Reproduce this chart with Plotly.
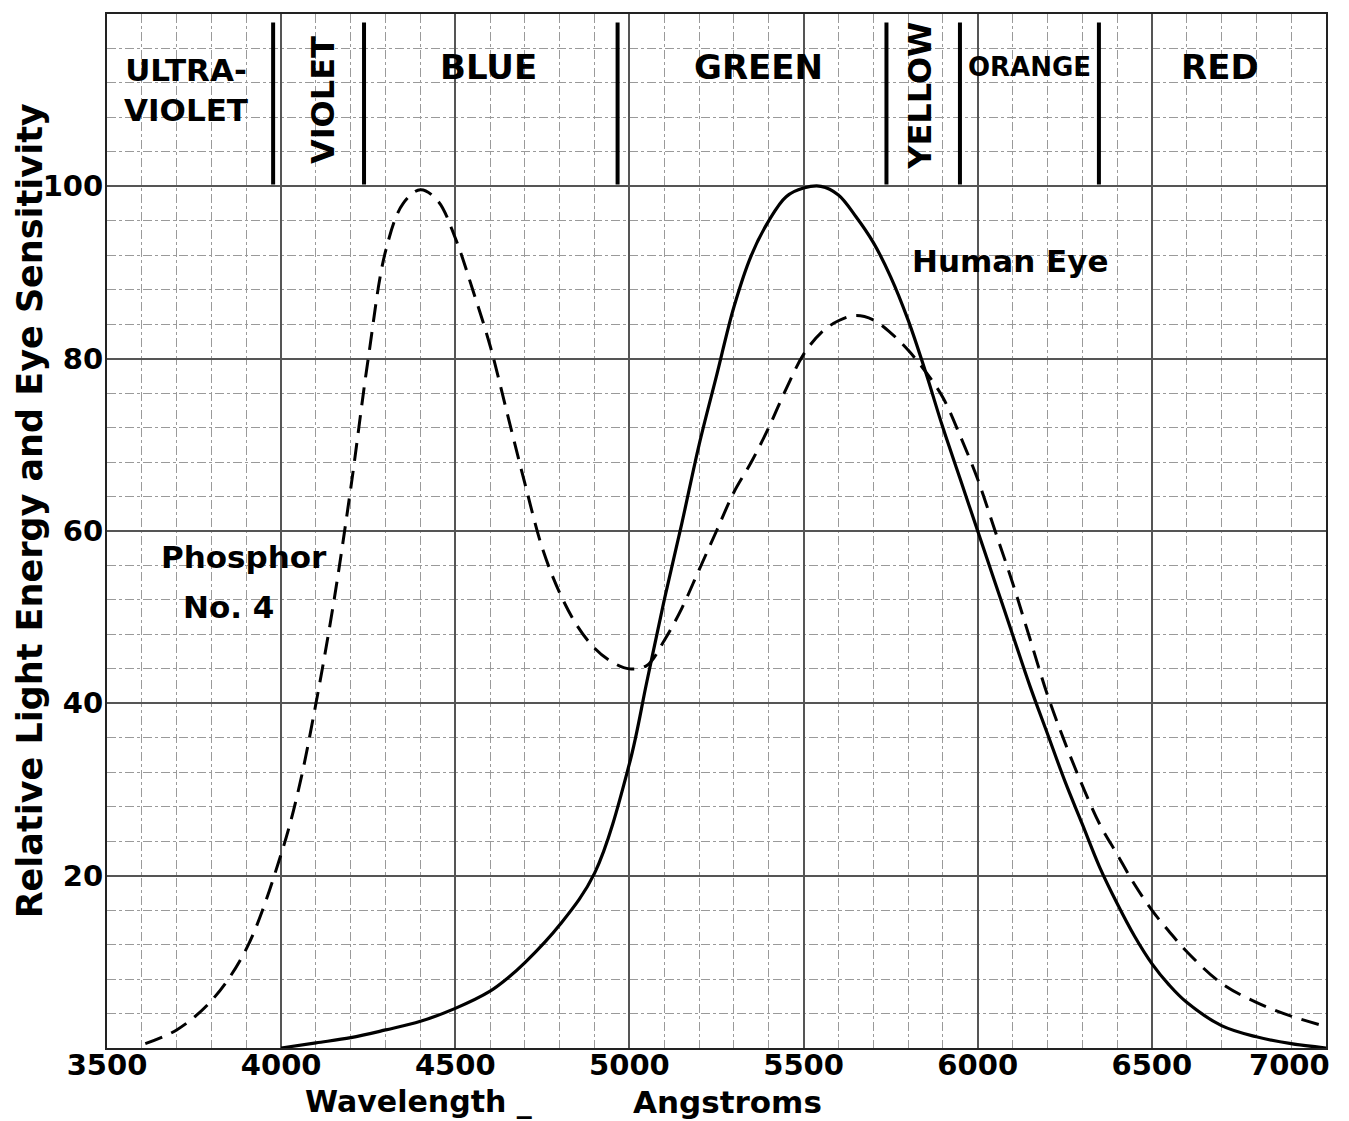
import plotly.graph_objects as go

# Wavelength in Angstroms
eye_wl = [4000, 4100, 4200, 4300, 4400, 4500, 4600, 4650, 4700, 4800, 4900, 5000, 5050, 5100, 5150,
          5200, 5250, 5300, 5350, 5400, 5450, 5500, 5550, 5600, 5650, 5700, 5750, 5800, 5850,
          5900, 5950, 6000, 6050, 6100, 6150, 6200, 6250, 6300, 6350, 6400, 6450, 6500, 6550,
          6600, 6700, 6800, 6900, 7000]
eye_val = [0, 0.6, 1.2, 2.1, 3.1, 4.6, 6.6, 8.1, 9.9, 14.3, 20.3, 33, 42.5, 52, 60.8,
           70, 78, 86, 92, 96, 98.8, 99.8, 100, 99, 96.5, 93.5, 89.5, 84.5, 78.5,
           72, 66, 60, 54, 48, 42, 36.5, 31, 26, 21, 16.8, 13, 9.8, 7.3,
           5.3, 2.6, 1.3, 0.5, 0]

phos_wl = [3610, 3700, 3800, 3900, 4000, 4050, 4100, 4150, 4200, 4250, 4300, 4350, 4400, 4450,
           4500, 4550, 4600, 4650, 4700, 4750, 4800, 4850, 4900, 4950, 5000, 5050, 5100, 5150,
           5200, 5250, 5300, 5350, 5400, 5450, 5500, 5550, 5600, 5650, 5700, 5750, 5800, 5850,
           5900, 5950, 6000, 6050, 6100, 6150, 6200, 6250, 6300, 6350, 6400, 6450, 6500, 6550,
           6600, 6700, 6800, 6900, 7000]
phos_val = [0.5, 2.1, 5.5, 11.5, 22.5, 30, 40, 51.5, 65, 80, 92.5, 98, 99.6, 98.3,
            94, 88, 81.5, 73.5, 65.5, 58, 52.8, 49, 46.4, 44.8, 44, 44.4, 47.3, 51,
            55.5, 60, 64.5, 68, 72, 76.5, 80.5, 83, 84.4, 85, 84.5, 83, 81, 78.5,
            75.5, 71, 66, 60, 54, 47.5, 41, 35.5, 30.5, 26, 22.5, 19, 16, 13.5,
            11.2, 7.5, 5.3, 3.7, 2.5]

# colour band boundaries (Angstroms) in the strip above 100
band_edges = [3977, 4238, 4966, 5738, 5949, 6348]
band_names = ["ULTRA-<br>VIOLET", "VIOLET", "BLUE", "GREEN", "YELLOW", "ORANGE", "RED"]
band_label_x = [3727, 4120, 4594, 5372, 5834, 6150, 6696]
band_label_y = [111.2, 110, 113.8, 113.8, 110.5, 113.8, 113.8]
band_label_angle = [0, -90, 0, 0, -90, 0, 0]
band_label_size = [31, 32, 34, 34, 32, 26, 34]

x_ticks = [3500, 4000, 4500, 5000, 5500, 6000, 6500]
y_ticks = [20, 40, 60, 80, 100]

FONT = "DejaVu Sans"


def txt(size):
    return dict(family=FONT, size=size, color="black", weight="bold")


fig = go.Figure()

fig.add_trace(go.Scatter(
    x=phos_wl, y=phos_val, mode="lines", line_shape="spline",
    line=dict(color="black", width=3, dash="18px,10px"),
    showlegend=False,
))
fig.add_trace(go.Scatter(
    x=eye_wl, y=eye_val, mode="lines", line_shape="spline",
    line=dict(color="black", width=3.2),
    showlegend=False,
))

# thick separators between the colour names
for xe in band_edges:
    fig.add_shape(type="line", xref="x", yref="y", x0=xe, x1=xe, y0=100.2, y1=119,
                  line=dict(color="black", width=4))

for name, bx, by, ang, sz in zip(band_names, band_label_x, band_label_y, band_label_angle, band_label_size):
    fig.add_annotation(x=bx, y=by, text=name, showarrow=False, textangle=ang, font=txt(sz))

fig.add_annotation(x=6095, y=91.3, text="Human Eye", showarrow=False, font=txt(31))
fig.add_annotation(x=3893, y=57, text="Phosphor", showarrow=False, font=txt(31))
fig.add_annotation(x=3850, y=51.2, text="No. 4", showarrow=False, font=txt(31))

# 7000 label sits left of its gridline so it fits the page
fig.add_annotation(x=7000, y=0, text="7000", showarrow=False, xanchor="right",
                   yanchor="top", yshift=2, xshift=6, font=txt(29))

# axis titles
fig.add_annotation(xref="paper", yref="paper", x=(418 - 107) / 1219, y=-0.0521,
                   text="Wavelength _", showarrow=False,
                   xanchor="center", yanchor="middle", font=txt(30))
fig.add_annotation(xref="paper", yref="paper", x=(727 - 107) / 1219, y=-0.0521,
                   text="Angstroms", showarrow=False,
                   xanchor="center", yanchor="middle", font=txt(31))
fig.add_annotation(xref="paper", yref="paper", x=(30 - 107) / 1219, y=0.519, textangle=-90,
                   text="Relative Light Energy and Eye Sensitivity", showarrow=False,
                   xanchor="center", yanchor="middle", font=txt(35))

fig.update_xaxes(
    range=[3500, 7000], tickvals=x_ticks, ticks="", ticklabelstandoff=-10,
    tickfont=txt(29),
    showgrid=True, gridcolor="#555", gridwidth=1.5,
    minor=dict(dtick=100, tick0=3500, showgrid=True, gridcolor="#9a9a9a", gridwidth=1, griddash="dashdot"),
    showline=True, mirror=True, linecolor="#222", linewidth=2, zeroline=False,
)
fig.update_yaxes(
    range=[0, 120], tickvals=y_ticks, ticks="", ticklabelstandoff=-4,
    tickfont=txt(29),
    showgrid=True, gridcolor="#555", gridwidth=1.5,
    minor=dict(dtick=4, tick0=0, showgrid=True, gridcolor="#9a9a9a", gridwidth=1, griddash="dashdot"),
    showline=True, mirror=True, linecolor="#222", linewidth=2, zeroline=False,
)

fig.update_layout(
    width=1349, height=1121,
    margin=dict(l=107, r=23, t=12, b=73),
    plot_bgcolor="white", paper_bgcolor="white",
    font=dict(family=FONT, color="black"),
)

# drop the browser's default body margin so the figure sits at the page corner
fig.write_html("out.html", config={"displayModeBar": False},
               post_script="document.body.style.margin='0';document.body.style.overflow='hidden';")
